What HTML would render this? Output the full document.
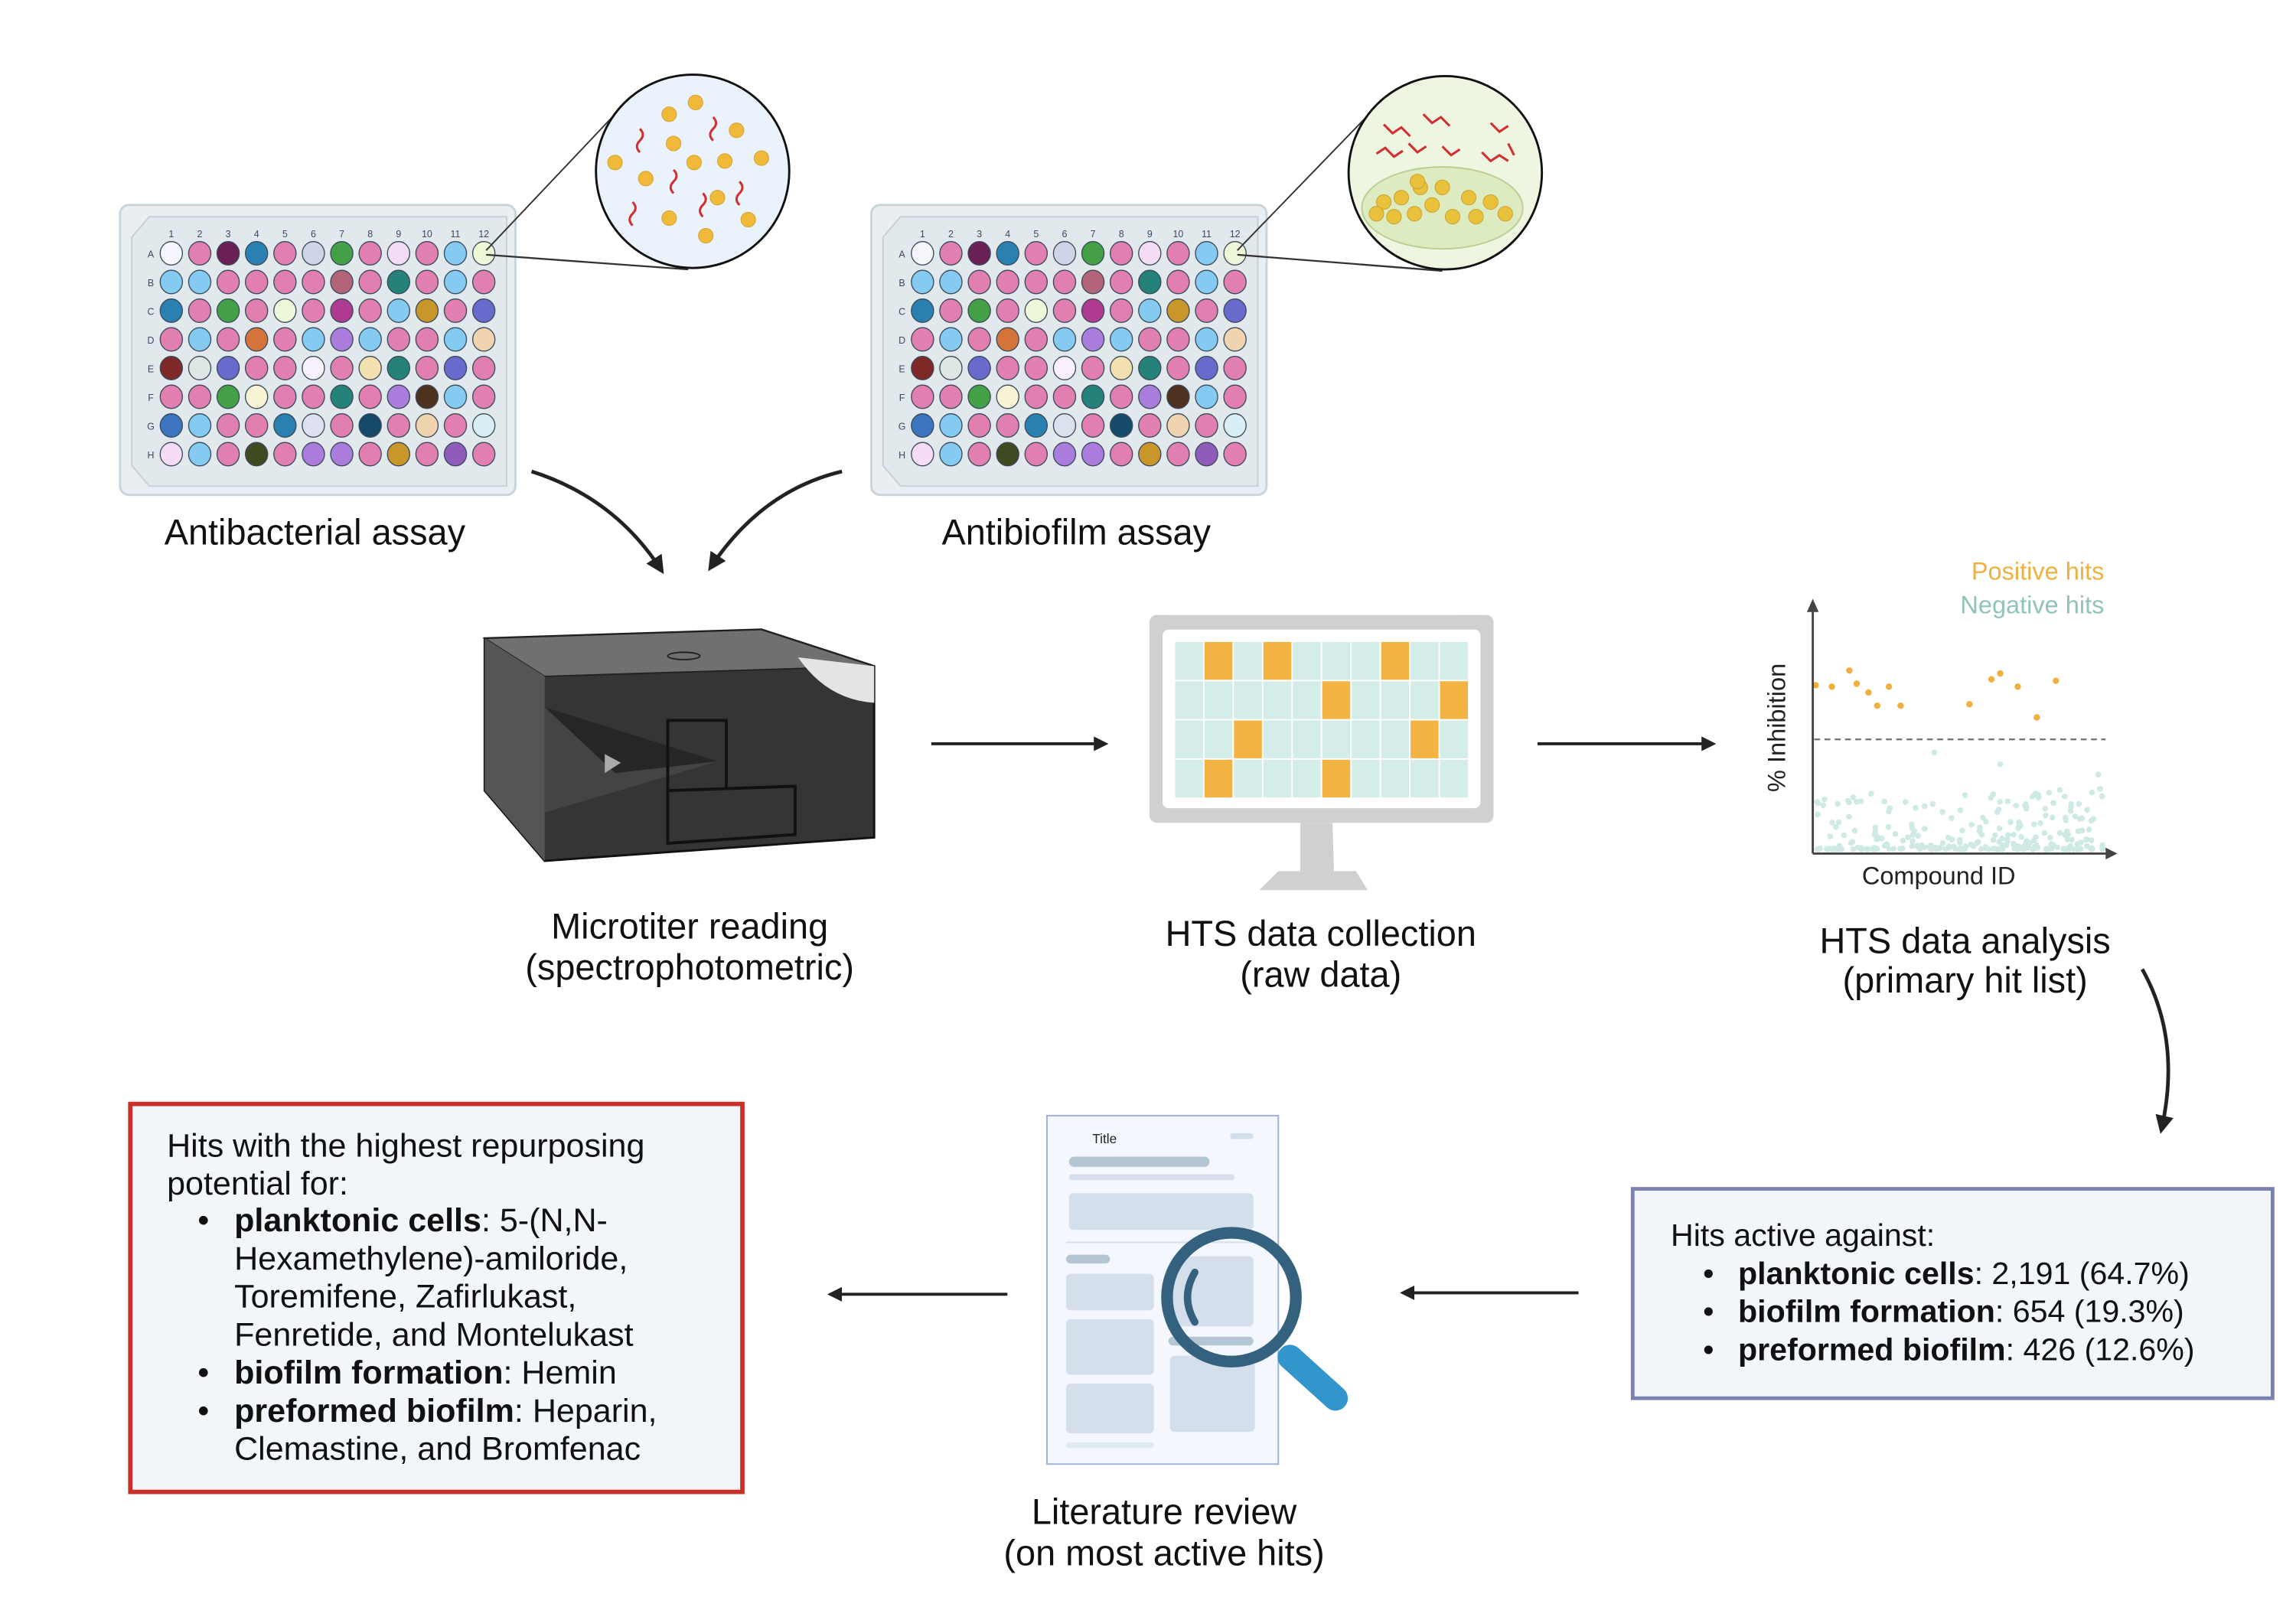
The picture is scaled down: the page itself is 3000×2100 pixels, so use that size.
<!DOCTYPE html>
<html><head><meta charset="utf-8"><style>
html,body{margin:0;padding:0;background:#fff;}
svg{display:block;}
text{font-family:"Liberation Sans",sans-serif;}
</style></head><body>
<svg id="s" width="3000" height="2100" viewBox="0 0 1568 1097.6" preserveAspectRatio="none" xmlns="http://www.w3.org/2000/svg">
<defs>
<marker id="ah" viewBox="0 0 10 10" refX="8" refY="5" markerWidth="5" markerHeight="5" orient="auto"><path d="M0,0 L10,5 L0,10 z" fill="#222"/></marker>
</defs>
<rect width="1568" height="1098" fill="#fff"/>

<g id="p1"></g>
<g id="p2"></g>

<line x1="332" y1="171" x2="420" y2="78" stroke="#333" stroke-width="1"/>
<line x1="332" y1="174" x2="470" y2="184" stroke="#333" stroke-width="1.2"/>
<line x1="845" y1="171" x2="933" y2="80" stroke="#333" stroke-width="1"/>
<line x1="845" y1="174" x2="985" y2="185" stroke="#333" stroke-width="1.2"/>

<circle cx="473" cy="117" r="66" fill="#eaf2fb" stroke="#111" stroke-width="1.5"/>
<g fill="#f0b93a" stroke="#d4a030" stroke-width="0.5">
<circle cx="475" cy="70" r="5"/><circle cx="457" cy="78" r="5"/><circle cx="503" cy="89" r="5"/><circle cx="460" cy="98" r="5"/><circle cx="420" cy="111" r="5"/><circle cx="474" cy="111" r="5"/><circle cx="495" cy="110" r="5"/><circle cx="520" cy="108" r="5"/><circle cx="441" cy="122" r="5"/><circle cx="490" cy="135" r="5"/><circle cx="511" cy="150" r="5"/><circle cx="457" cy="149" r="5"/><circle cx="482" cy="161" r="5"/>
</g>
<g fill="none" stroke="#d03030" stroke-width="1.6">
<path d="M487,80 q4,4 0,8 q-4,4 0,8"/><path d="M437,88 q4,4 0,8 q-4,4 0,8"/><path d="M460,116 q4,4 0,8 q-4,4 0,8"/><path d="M505,124 q4,4 0,8 q-4,4 0,8"/><path d="M480,132 q4,4 0,8 q-4,4 0,8"/><path d="M432,138 q4,4 0,8 q-4,4 0,8"/>
</g>
<circle cx="987" cy="118" r="66" fill="#eef6e2" stroke="#111" stroke-width="1.5"/>
<ellipse cx="985" cy="142" rx="55" ry="28" fill="#dcebc0" stroke="#b8cf90" stroke-width="1"/>
<g fill="#e9c13a" stroke="#c9a030" stroke-width="0.5">
<circle cx="945" cy="138" r="5"/><circle cx="957" cy="135" r="5"/><circle cx="970" cy="128" r="5"/><circle cx="985" cy="128" r="5"/><circle cx="1003" cy="135" r="5"/><circle cx="1018" cy="138" r="5"/><circle cx="952" cy="148" r="5"/><circle cx="966" cy="146" r="5"/><circle cx="978" cy="140" r="5"/><circle cx="992" cy="148" r="5"/><circle cx="1008" cy="148" r="5"/><circle cx="1028" cy="146" r="5"/><circle cx="940" cy="146" r="5"/><circle cx="968" cy="124" r="5"/>
</g>
<g fill="none" stroke="#d03030" stroke-width="1.6">
<path d="M945,85 l6,6 l6,-4 l6,6"/><path d="M972,78 l6,6 l6,-4 l6,6"/><path d="M1018,84 l6,6 l6,-4"/><path d="M940,105 l6,-4 l6,6 l6,-4"/><path d="M962,98 l6,6 l6,-4"/><path d="M985,100 l6,6 l6,-4"/><path d="M1012,104 l6,6 l6,-4 l6,4"/><path d="M1030,98 l4,8"/>
</g>

<g font-size="24.5" text-anchor="middle" fill="#111">
<text x="215" y="372">Antibacterial assay</text>
<text x="735" y="372">Antibiofilm assay</text>
<text x="471" y="641">Microtiter reading</text>
<text x="471" y="669">(spectrophotometric)</text>
<text x="902" y="646">HTS data collection</text>
<text x="902" y="674">(raw data)</text>
<text x="1342" y="651">HTS data analysis</text>
<text x="1342" y="678">(primary hit list)</text>
<text x="795" y="1041">Literature review</text>
<text x="795" y="1069">(on most active hits)</text>
</g>

<path d="M363,322 Q420,340 452,390" fill="none" stroke="#222" stroke-width="2.5" marker-end="url(#ah)"/>
<path d="M575,322 Q520,335 485,388" fill="none" stroke="#222" stroke-width="2.5" marker-end="url(#ah)"/>

<g>
<polygon points="331,436 520,430 597,455 597,572 372,588 331,540" fill="#353535" stroke="#111" stroke-width="1.5"/>
<polygon points="331,436 520,430 597,455 372,462" fill="#707070" stroke="#222" stroke-width="1"/>
<polygon points="331,436 372,462 372,588 331,540" fill="#555"/>
<path d="M545,449 Q565,478 597,480 L597,455 Z" fill="#e6e3e3"/>
<ellipse cx="467" cy="448" rx="11" ry="2.5" fill="none" stroke="#222" stroke-width="1"/>
<polygon points="372,483 490,520 372,555" fill="#444"/>
<polygon points="372,483 490,520 420,528" fill="#262626"/>
<polygon points="413,515 424,521 413,528" fill="#aaa"/>
<rect x="456" y="492" width="40" height="80" fill="none" stroke="#111" stroke-width="2"/>
<polygon points="456,540 543,537 543,570 456,576" fill="#353535" stroke="#111" stroke-width="2"/>
</g>

<line x1="636" y1="508" x2="755" y2="508" stroke="#222" stroke-width="2" marker-end="url(#ah)"/>
<line x1="1050" y1="508" x2="1170" y2="508" stroke="#222" stroke-width="2" marker-end="url(#ah)"/>

<rect x="785" y="420" width="235" height="142" rx="5" fill="#d0d0d0"/>
<rect x="794" y="430" width="217" height="122" rx="4" fill="#fff"/>
<g id="scr"></g>
<path d="M888,562 L910,562 L911,595 L888,595 Z" fill="#d0d0d0"/>
<path d="M873,595 L926,595 L934,608 L860,608 Z" fill="#d0d0d0"/>

<text x="1437" y="396" font-size="17" text-anchor="end" fill="#f0b040">Positive hits</text>
<text x="1437" y="419" font-size="17" text-anchor="end" fill="#90c4b8">Negative hits</text>
<g id="dots"></g>
<line x1="1238" y1="583" x2="1440" y2="583" stroke="#444" stroke-width="1.5"/>
<polygon points="1438,579 1446,583 1438,587" fill="#444"/>
<line x1="1238" y1="415" x2="1238" y2="583" stroke="#444" stroke-width="1.5"/>
<polygon points="1234,418 1238,409 1242,418" fill="#444"/>
<line x1="1239" y1="505" x2="1438" y2="505" stroke="#777" stroke-width="1.2" stroke-dasharray="4,3"/>
<text x="1324" y="604" font-size="17" text-anchor="middle" fill="#222">Compound ID</text>
<text transform="translate(1219,497) rotate(-90)" font-size="17" text-anchor="middle" fill="#222">% Inhibition</text>

<path d="M1463,662 Q1490,710 1476,772" fill="none" stroke="#222" stroke-width="2.5" marker-end="url(#ah)"/>

<rect x="1115" y="812" width="437" height="143" fill="#f2f5fa" stroke="#7a80b0" stroke-width="2.5"/>
<g font-size="21.5" fill="#111">
<text x="1141" y="851">Hits active against:</text>
<text x="1163" y="877">•</text><text x="1187" y="877"><tspan font-weight="bold">planktonic cells</tspan>: 2,191 (64.7%)</text>
<text x="1163" y="903">•</text><text x="1187" y="903"><tspan font-weight="bold">biofilm formation</tspan>: 654 (19.3%)</text>
<text x="1163" y="929">•</text><text x="1187" y="929"><tspan font-weight="bold">preformed biofilm</tspan>: 426 (12.6%)</text>
</g>

<line x1="1078" y1="883" x2="958" y2="883" stroke="#222" stroke-width="2" marker-end="url(#ah)"/>
<line x1="688" y1="884" x2="567" y2="884" stroke="#222" stroke-width="2" marker-end="url(#ah)"/>

<rect x="715" y="762" width="158" height="238" fill="#f4f8fe" stroke="#9db0dc" stroke-width="1"/>
<text x="746" y="781" font-size="9" fill="#222">Title</text>
<rect x="840" y="774" width="16" height="4" rx="2" fill="#d5dfeb"/>
<rect x="730" y="790" width="96" height="7" rx="3.5" fill="#b4c5d3"/>
<rect x="730" y="802" width="113" height="4" rx="2" fill="#d5dfeb"/>
<rect x="730" y="815" width="126" height="25" rx="3" fill="#d5dfeb"/>
<rect x="728" y="848" width="128" height="1" fill="#d5dfeb"/>
<rect x="728" y="857" width="30" height="6" rx="3" fill="#b4c5d3"/>
<rect x="728" y="870" width="60" height="25" rx="3" fill="#d5dfeb"/>
<rect x="728" y="901" width="60" height="38" rx="3" fill="#d5dfeb"/>
<rect x="728" y="945" width="60" height="34" rx="3" fill="#d5dfeb"/>
<rect x="800" y="858" width="56" height="48" rx="3" fill="#d5dfeb"/>
<rect x="798" y="913" width="58" height="6" rx="3" fill="#b4c5d3"/>
<rect x="799" y="926" width="58" height="52" rx="3" fill="#d5dfeb"/>
<rect x="728" y="985" width="60" height="4" rx="2" fill="#e0e8f2"/>
<line x1="881" y1="927" x2="912" y2="955" stroke="#3296cc" stroke-width="17" stroke-linecap="round"/>
<circle cx="841" cy="886" r="44" fill="none" stroke="#34627e" stroke-width="8"/>
<path d="M816,869 Q806,886 816,903" fill="none" stroke="#34627e" stroke-width="5" stroke-linecap="round"/>

<rect x="89" y="754" width="418" height="265" fill="#f2f5fa" stroke="#c8302a" stroke-width="3"/>
<g font-size="22.5" fill="#111">
<text x="114" y="790">Hits with the highest repurposing</text>
<text x="114" y="816">potential for:</text>
<text x="135" y="841">•</text><text x="160" y="841"><tspan font-weight="bold">planktonic cells</tspan>: 5-(N,N-</text>
<text x="160" y="867">Hexamethylene)-amiloride,</text>
<text x="160" y="893">Toremifene, Zafirlukast,</text>
<text x="160" y="919">Fenretide, and Montelukast</text>
<text x="135" y="945">•</text><text x="160" y="945"><tspan font-weight="bold">biofilm formation</tspan>: Hemin</text>
<text x="135" y="971">•</text><text x="160" y="971"><tspan font-weight="bold">preformed biofilm</tspan>: Heparin,</text>
<text x="160" y="997">Clemastine, and Bromfenac</text>
</g>
</svg>
<script>
var NS="http://www.w3.org/2000/svg";
function el(p,t,a){var e=document.createElementNS(NS,t);for(var k in a)e.setAttribute(k,a[k]);p.appendChild(e);return e;}
var P="#e07fb0",LB="#85caf0",G="#44a046",BL="#2a80b0",T="#25827a",IN="#6a6acc",PU="#aa7cdc";
var rows=[
["#f4f6fb",P,"#6a1f55",BL,P,"#d0d4e8",G,P,"#f5dcf5",P,LB,"#eef7d8"],
[LB,LB,P,P,P,P,"#b46478",P,T,P,LB,P],
[BL,P,G,P,"#eef7d8",P,"#b03a90",P,LB,"#c9962a",P,IN],
[P,LB,P,"#d4743a",P,LB,PU,LB,P,P,LB,"#f0d4b0"],
["#7e2828","#dde8e4",IN,P,P,"#f8f0fa",P,"#f2e0b0",T,P,IN,P],
[P,P,G,"#f7f3d4",P,P,T,P,PU,"#4e3220",LB,P],
["#3d74c0",LB,P,P,BL,"#dde0ee",P,"#154a68",P,"#f0d4b0",P,"#d8f0f5"],
["#f6dcf6",LB,P,"#3f4a20",P,PU,PU,P,"#c9962a",P,"#905cbc",P]];
function plate(g,ox){
 g=document.getElementById(g);
 el(g,"rect",{x:ox+82,y:140,width:270,height:198,rx:6,fill:"#e8eef2",stroke:"#c8d4da","stroke-width":1.5});
 el(g,"path",{d:"M"+(ox+102)+",148 L"+(ox+346)+",148 L"+(ox+346)+",332 L"+(ox+102)+",332 L"+(ox+90)+",318 L"+(ox+90)+",162 Z",fill:"#e2e9ed",stroke:"#c4d0d6","stroke-width":1});
 var L="ABCDEFGH";
 for(var c=0;c<12;c++){var t=el(g,"text",{x:ox+117+c*19.4,y:162,"font-size":6.5,"text-anchor":"middle",fill:"#446"});t.textContent=c+1;}
 for(var r=0;r<8;r++){var t=el(g,"text",{x:ox+103,y:176+r*19.6,"font-size":6.5,"text-anchor":"middle",fill:"#446"});t.textContent=L[r];
  for(var c=0;c<12;c++){el(g,"ellipse",{cx:ox+117+c*19.4,cy:173+r*19.6,rx:7.6,ry:8,fill:rows[r][c],stroke:"#3a4a5a","stroke-width":0.7});}}
}
plate("p1",0);plate("p2",513);
var scr=document.getElementById("scr");
var org=[[1,3,7],[5,9],[2,8],[1,5]];
for(var r=0;r<4;r++)for(var c=0;c<10;c++){
 el(scr,"rect",{x:802+c*20.1+0.5,y:438+r*26.8+0.5,width:19.1,height:25.8,fill:org[r].indexOf(c)>=0?"#f2b342":"#d4ede8"});}
var d=document.getElementById("dots");
var pos=[[1240,468],[1251,469],[1263,458],[1268,467],[1276,473],[1282,482],[1290,469],[1298,482],[1345,481],[1360,464],[1366,460],[1378,469],[1391,490],[1404,465]];
pos.forEach(function(p){el(d,"circle",{cx:p[0],cy:p[1],r:2.2,fill:"#f0b040"});});
var seed=7;function rnd(){seed=(seed*16807)%2147483647;return seed/2147483647;}
for(var i=0;i<260;i++){var x=1241+rnd()*196;var y=580-Math.pow(rnd(),3.2)*42;el(d,"circle",{cx:x,cy:y,r:2,fill:"#cfeae6"});}
[[1321,514],[1366,522],[1433,529],[1342,543],[1388,544],[1410,544],[1246,546],[1255,549],[1262,547]].forEach(function(p){el(d,"circle",{cx:p[0],cy:p[1],r:2,fill:"#cfeae6"});});
</script>
</body></html>
